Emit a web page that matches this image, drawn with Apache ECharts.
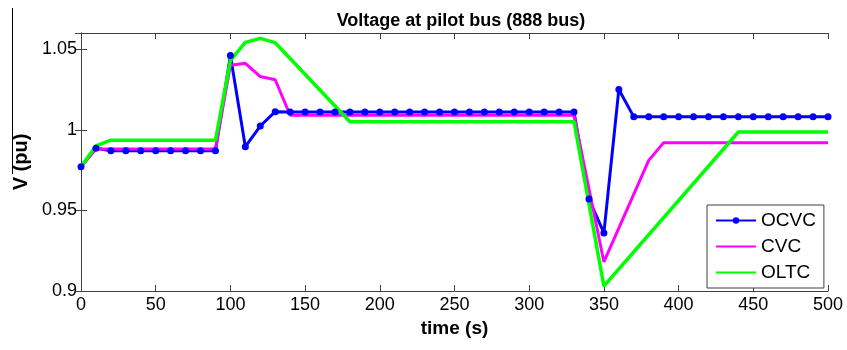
<!DOCTYPE html>
<html>
<head>
<meta charset="utf-8">
<script src="https://cdn.jsdelivr.net/npm/echarts@6/dist/echarts.min.js"></script>
<style>
  html, body { margin: 0; padding: 0; background: #fff; }
  #chart { width: 847px; height: 350px; }
</style>
</head>
<body>
<div id="chart"></div>
<script>
// time axis ticks
const xTicks = [0, 50, 100, 150, 200, 250, 300, 350, 400, 450, 500]
const yTicks = [0.9, 0.95, 1, 1.05]

// OCVC (markers every 10 s)
const ocvcTime = [0, 10, 20, 30, 40, 50, 60, 70, 80, 90,
  100, 110, 120, 130, 140, 150, 160, 170, 180, 190,
  200, 210, 220, 230, 240, 250, 260, 270, 280, 290,
  300, 310, 320, 330, 340, 350, 360, 370, 380, 390,
  400, 410, 420, 430, 440, 450, 460, 470, 480, 490, 500]
const ocvcVolt = [0.977, 0.9885, 0.987, 0.987, 0.987, 0.987, 0.987, 0.987, 0.987, 0.987,
  1.046, 0.9895, 1.0023, 1.0112, 1.011, 1.011, 1.011, 1.011, 1.011, 1.011,
  1.011, 1.011, 1.011, 1.011, 1.011, 1.011, 1.011, 1.011, 1.011, 1.011,
  1.011, 1.011, 1.011, 1.011, 0.957, 0.936, 1.025, 1.008, 1.008, 1.008,
  1.008, 1.008, 1.008, 1.008, 1.008, 1.008, 1.008, 1.008, 1.008, 1.008, 1.008]

// CVC
const cvcTime = [0, 10, 90, 100, 110, 120, 130, 140, 330, 350, 380, 390, 500]
const cvcVolt = [0.977, 0.988, 0.988, 1.040, 1.0412, 1.033, 1.031, 1.009, 1.009, 0.918, 0.981, 0.992, 0.992]

// OLTC
const oltcTime = [0, 10, 20, 90, 100, 110, 120, 130, 180, 330, 350, 440, 500]
const oltcVolt = [0.977, 0.990, 0.9935, 0.9935, 1.043, 1.0542, 1.0567, 1.054, 1.005, 1.005, 0.903, 0.9986, 0.9986]

const pair = (t, v) => t.map((x, i) => [x, v[i]])

const font = 'Liberation Sans, Arial, Helvetica, sans-serif'
const axisColor = '#404040'

const chart = echarts.init(document.getElementById('chart'))
const mirrorX = {
  type: 'value', min: 0, max: 500, interval: 50, position: 'top',
  axisLine: { show: true, lineStyle: { color: axisColor, width: 1 } },
  axisTick: { show: true, inside: true, length: 6, lineStyle: { color: axisColor } },
  axisLabel: { show: false }, splitLine: { show: false }
}
const mirrorY = {
  type: 'value', min: 0.9, max: 1.06, interval: 0.05, position: 'right',
  axisLine: { show: true, lineStyle: { color: axisColor, width: 1 } },
  axisTick: { show: true, inside: true, length: 6, lineStyle: { color: axisColor } },
  axisLabel: { show: false }, splitLine: { show: false }
}

const option = {
  animation: false,
  backgroundColor: '#fff',
  title: {
    text: 'Voltage at pilot bus (888 bus)',
    left: 456, top: 7, textAlign: 'center',
    textStyle: { fontFamily: font, fontSize: 18, fontWeight: 'bold', color: '#000' }
  },
  graphic: [
    { type: 'line', shape: { x1: 12.5, y1: 8, x2: 12.5, y2: 174 }, style: { stroke: '#000', lineWidth: 1 } }
  ],
  grid: { left: 81, right: 19, top: 33, bottom: 59 },
  legend: {
    orient: 'vertical', left: 707, top: 205,
    padding: [6, 8, 6, 8], itemGap: 7, itemWidth: 40, itemHeight: 8,
    backgroundColor: '#fff', borderColor: '#404040', borderWidth: 1,
    textStyle: { fontFamily: font, fontSize: 19, color: '#000', lineHeight: 19 },
    data: [
      { name: 'OCVC' },
      { name: 'CVC', itemStyle: { opacity: 0, borderWidth: 0 } },
      { name: 'OLTC', itemStyle: { opacity: 0, borderWidth: 0 } }
    ]
  },
  xAxis: [{
    type: 'value', min: xTicks[0], max: xTicks[xTicks.length - 1], interval: 50,
    name: 'time (s)', nameLocation: 'middle', nameGap: 26,
    nameTextStyle: { fontFamily: font, fontSize: 19, fontWeight: 'bold', color: '#000' },
    axisLine: { show: true, onZero: false, lineStyle: { color: axisColor, width: 1 } },
    axisTick: { show: true, inside: true, length: 6, lineStyle: { color: axisColor } },
    axisLabel: { fontFamily: font, fontSize: 18, color: '#000', margin: 5 },
    splitLine: { show: false }
  }, mirrorX],
  yAxis: [{
    type: 'value', min: yTicks[0], max: 1.06, interval: 0.05,
    name: 'V (pu)', nameLocation: 'middle', nameGap: 48,
    nameTextStyle: { fontFamily: font, fontSize: 20, fontWeight: 'bold', color: '#000' },
    axisLine: { show: true, onZero: false, lineStyle: { color: axisColor, width: 1 } },
    axisTick: { show: true, inside: true, length: 6, lineStyle: { color: axisColor } },
    axisLabel: { fontFamily: font, fontSize: 18, color: '#000', margin: 4, showMaxLabel: false },
    splitLine: { show: false }
  }, mirrorY],
  series: [
    {
      name: 'OCVC', type: 'line', data: pair(ocvcTime, ocvcVolt),
      symbol: 'circle', symbolSize: 7, showAllSymbol: true,
      lineStyle: { color: '#0000ff', width: 3 },
      itemStyle: { color: '#0000ff' }
    },
    {
      name: 'CVC', type: 'line', data: pair(cvcTime, cvcVolt),
      symbol: 'none',
      lineStyle: { color: '#ff00ff', width: 3 },
      itemStyle: { color: '#ff00ff' }
    },
    {
      name: 'OLTC', type: 'line', data: pair(oltcTime, oltcVolt),
      symbol: 'none',
      lineStyle: { color: '#00ff00', width: 3.5 },
      itemStyle: { color: '#00ff00' }
    }
  ]
}
chart.setOption(option)
</script>
</body>
</html>
